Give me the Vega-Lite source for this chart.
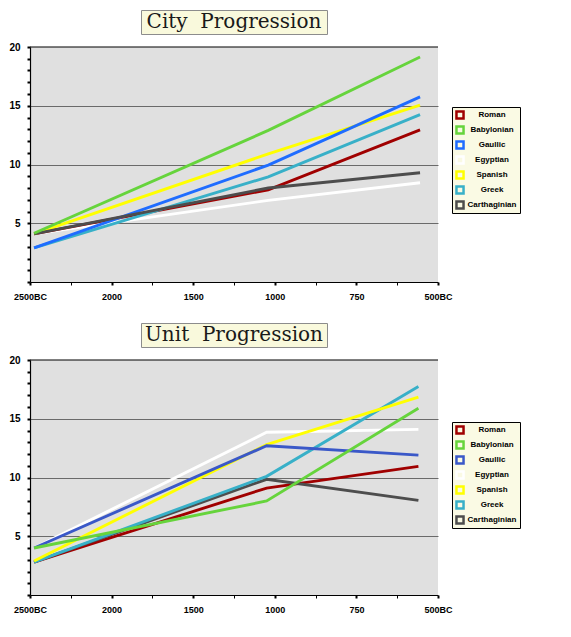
{
  "$schema": "https://vega.github.io/schema/vega-lite/v6.json",
  "background": "white",
  "padding": {"left": 8, "top": 9, "right": 5, "bottom": 5},
  "config": {
    "view": {"stroke": null},
    "axis": {
      "labelFont": "Liberation Sans",
      "labelFontWeight": "bold",
      "labelColor": "black",
      "title": null
    },
    "legend": {
      "labelFont": "Liberation Sans",
      "labelFontWeight": "bold",
      "labelFontSize": 8,
      "labelColor": "black"
    }
  },
  "bounds": "flush",
  "center": true,
  "spacing": 13,
  "resolve": {"scale": {"color": "independent"}, "legend": {"color": "independent"}},
  "vconcat": [
    {
      "width": 186,
      "height": 24,
      "view": {"fill": "#f9f9dc", "stroke": "#8c8c8c", "strokeWidth": 1},
      "data": {"values": [{"t": "City\u00a0 Progression"}]},
      "mark": {"type": "text", "font": "DejaVu Serif", "fontSize": 20, "color": "#1a1a1a", "align": "center", "baseline": "middle"},
      "encoding": {"text": {"field": "t", "type": "nominal"}}
    },
    {
      "width": 408,
      "height": 235,
      "view": {"fill": "#e0e0e0", "stroke": null},
      "layer": [
        {
          "data": {"values": [
            {"series": "Egyptian", "x": 0.05, "y": 4.1},
            {"series": "Egyptian", "x": 2.92, "y": 6.95},
            {"series": "Egyptian", "x": 4.78, "y": 8.45},
            {"series": "Roman", "x": 0.05, "y": 4.1},
            {"series": "Roman", "x": 2.92, "y": 7.85},
            {"series": "Roman", "x": 4.78, "y": 12.95},
            {"series": "Greek", "x": 0.05, "y": 2.9},
            {"series": "Greek", "x": 2.92, "y": 8.95},
            {"series": "Greek", "x": 4.78, "y": 14.25},
            {"series": "Spanish", "x": 0.05, "y": 4.1},
            {"series": "Spanish", "x": 2.92, "y": 10.9},
            {"series": "Spanish", "x": 4.78, "y": 15.05},
            {"series": "Gaullic", "x": 0.05, "y": 2.9},
            {"series": "Gaullic", "x": 2.92, "y": 9.95},
            {"series": "Gaullic", "x": 4.78, "y": 15.75},
            {"series": "Carthaginian", "x": 0.05, "y": 4.1},
            {"series": "Carthaginian", "x": 2.92, "y": 8.0},
            {"series": "Carthaginian", "x": 4.78, "y": 9.3},
            {"series": "Babylonian", "x": 0.05, "y": 4.15},
            {"series": "Babylonian", "x": 2.92, "y": 12.9},
            {"series": "Babylonian", "x": 4.78, "y": 19.15}
          ]},
          "mark": {"type": "line", "strokeWidth": 2.9},
          "encoding": {
            "x": {
              "field": "x", "type": "quantitative",
              "scale": {"domain": [0, 5], "nice": false, "zero": false},
              "axis": {
                "values": [0, 0.5, 1, 1.5, 2, 2.5, 3, 3.5, 4, 4.5, 5],
                "labelExpr": "datum.value % 1 === 0 ? ['2500BC','2000','1500','1000','750','500BC'][datum.value] : ''",
                "labelFontSize": 9,
                "labelPadding": 7,
                "labelFlush": false,
                "labelOverlap": false,
                "grid": false,
                "domainColor": "black",
                "domainWidth": 1.2,
                "tickColor": "black",
                "tickSize": 3,
                "tickWidth": {"condition": {"test": "datum.value % 1 === 0", "value": 2}, "value": 1}
              }
            },
            "y": {
              "field": "y", "type": "quantitative",
              "scale": {"domain": [0, 20], "nice": false},
              "axis": {
                "values": [0, 1, 2, 3, 4, 5, 6, 7, 8, 9, 10, 11, 12, 13, 14, 15, 16, 17, 18, 19, 20],
                "labelExpr": "datum.value % 5 === 0 && datum.value > 0 ? datum.label : ''",
                "labelFontSize": 10,
                "labelPadding": 7,
                "labelOverlap": false,
                "domainColor": "black",
                "domainWidth": 1.2,
                "tickColor": "black",
                "tickSize": 3,
                "tickWidth": 2,
                "grid": true,
                "gridColor": "#6a6a6a",
                "gridWidth": 1,
                "gridOpacity": {"condition": {"test": "datum.value % 5 === 0 && datum.value > 0 && datum.value < 20", "value": 1}, "value": 0}
              }
            },
            "color": {
              "field": "series", "type": "nominal",
              "scale": {
                "domain": ["Roman", "Babylonian", "Gaullic", "Egyptian", "Spanish", "Greek", "Carthaginian"],
                "range": ["#a00000", "#66d43c", "#1f6cff", "#ffffff", "#ffff00", "#38b0c8", "#4d4d4d"]
              },
              "legend": {
                "title": null,
                "orient": "none",
                "legendX": 422,
                "legendY": 60,
                "fillColor": "#fafae4",
                "strokeColor": "black",
                "padding": 3,
                "symbolType": "square",
                "symbolSize": 50,
                "symbolStrokeWidth": 2.5,
                "labelAlign": "center",
                "labelOffset": 27,
                "rowPadding": 5,
                "clipHeight": 10
              }
            }
          }
        },
        {
          "data": {"values": [{"top": 20}]},
          "mark": {"type": "rule", "color": "black", "strokeWidth": 1.2},
          "encoding": {
            "y": {
              "field": "top", "type": "quantitative",
              "scale": {"domain": [0, 20], "nice": false},
              "axis": {
                "values": [0, 1, 2, 3, 4, 5, 6, 7, 8, 9, 10, 11, 12, 13, 14, 15, 16, 17, 18, 19, 20],
                "labelExpr": "datum.value % 5 === 0 && datum.value > 0 ? datum.label : ''",
                "labelFontSize": 10,
                "labelPadding": 7,
                "labelOverlap": false,
                "domainColor": "black",
                "domainWidth": 1.2,
                "tickColor": "black",
                "tickSize": 3,
                "tickWidth": 2,
                "grid": true,
                "gridColor": "#6a6a6a",
                "gridWidth": 1,
                "gridOpacity": {"condition": {"test": "datum.value % 5 === 0 && datum.value > 0 && datum.value < 20", "value": 1}, "value": 0}
              }
            }
          }
        }
      ]
    },
    {
      "width": 10,
      "height": 15,
      "data": {"values": []},
      "mark": "text",
      "encoding": {}
    },
    {
      "width": 186,
      "height": 24,
      "view": {"fill": "#f9f9dc", "stroke": "#8c8c8c", "strokeWidth": 1},
      "data": {"values": [{"t": "Unit\u00a0 Progression"}]},
      "mark": {"type": "text", "font": "DejaVu Serif", "fontSize": 20, "color": "#1a1a1a", "align": "center", "baseline": "middle"},
      "encoding": {"text": {"field": "t", "type": "nominal"}}
    },
    {
      "width": 408,
      "height": 235,
      "view": {"fill": "#e0e0e0", "stroke": null},
      "layer": [
        {
          "data": {"values": [
            {"series": "Egyptian", "x": 0.05, "y": 4.0},
            {"series": "Egyptian", "x": 2.9, "y": 13.85},
            {"series": "Egyptian", "x": 4.76, "y": 14.1},
            {"series": "Roman", "x": 0.05, "y": 2.8},
            {"series": "Roman", "x": 2.9, "y": 9.1},
            {"series": "Roman", "x": 4.76, "y": 10.95},
            {"series": "Carthaginian", "x": 0.05, "y": 2.8},
            {"series": "Carthaginian", "x": 2.9, "y": 9.85},
            {"series": "Carthaginian", "x": 4.76, "y": 8.05},
            {"series": "Greek", "x": 0.05, "y": 2.8},
            {"series": "Greek", "x": 2.9, "y": 10.1},
            {"series": "Greek", "x": 4.76, "y": 17.75},
            {"series": "Spanish", "x": 0.05, "y": 2.9},
            {"series": "Spanish", "x": 2.9, "y": 12.8},
            {"series": "Spanish", "x": 4.76, "y": 16.85},
            {"series": "Gaullic", "x": 0.05, "y": 4.0},
            {"series": "Gaullic", "x": 2.9, "y": 12.7},
            {"series": "Gaullic", "x": 4.76, "y": 11.9},
            {"series": "Babylonian", "x": 0.05, "y": 4.0},
            {"series": "Babylonian", "x": 2.9, "y": 8.0},
            {"series": "Babylonian", "x": 4.76, "y": 15.9}
          ]},
          "mark": {"type": "line", "strokeWidth": 2.9},
          "encoding": {
            "x": {
              "field": "x", "type": "quantitative",
              "scale": {"domain": [0, 5], "nice": false, "zero": false},
              "axis": {
                "values": [0, 0.5, 1, 1.5, 2, 2.5, 3, 3.5, 4, 4.5, 5],
                "labelExpr": "datum.value % 1 === 0 ? ['2500BC','2000','1500','1000','750','500BC'][datum.value] : ''",
                "labelFontSize": 9,
                "labelPadding": 7,
                "labelFlush": false,
                "labelOverlap": false,
                "grid": false,
                "domainColor": "black",
                "domainWidth": 1.2,
                "tickColor": "black",
                "tickSize": 3,
                "tickWidth": {"condition": {"test": "datum.value % 1 === 0", "value": 2}, "value": 1}
              }
            },
            "y": {
              "field": "y", "type": "quantitative",
              "scale": {"domain": [0, 20], "nice": false},
              "axis": {
                "values": [0, 1, 2, 3, 4, 5, 6, 7, 8, 9, 10, 11, 12, 13, 14, 15, 16, 17, 18, 19, 20],
                "labelExpr": "datum.value % 5 === 0 && datum.value > 0 ? datum.label : ''",
                "labelFontSize": 10,
                "labelPadding": 7,
                "labelOverlap": false,
                "domainColor": "black",
                "domainWidth": 1.2,
                "tickColor": "black",
                "tickSize": 3,
                "tickWidth": 2,
                "grid": true,
                "gridColor": "#6a6a6a",
                "gridWidth": 1,
                "gridOpacity": {"condition": {"test": "datum.value % 5 === 0 && datum.value > 0 && datum.value < 20", "value": 1}, "value": 0}
              }
            },
            "color": {
              "field": "series", "type": "nominal",
              "scale": {
                "domain": ["Roman", "Babylonian", "Gaullic", "Egyptian", "Spanish", "Greek", "Carthaginian"],
                "range": ["#a00000", "#66d43c", "#3a58c8", "#ffffff", "#ffff00", "#38b0c8", "#4d4d4d"]
              },
              "legend": {
                "title": null,
                "orient": "none",
                "legendX": 422,
                "legendY": 62,
                "fillColor": "#fafae4",
                "strokeColor": "black",
                "padding": 3,
                "symbolType": "square",
                "symbolSize": 50,
                "symbolStrokeWidth": 2.5,
                "labelAlign": "center",
                "labelOffset": 27,
                "rowPadding": 5,
                "clipHeight": 10
              }
            }
          }
        },
        {
          "data": {"values": [{"top": 20}]},
          "mark": {"type": "rule", "color": "black", "strokeWidth": 1.2},
          "encoding": {
            "y": {
              "field": "top", "type": "quantitative",
              "scale": {"domain": [0, 20], "nice": false},
              "axis": {
                "values": [0, 1, 2, 3, 4, 5, 6, 7, 8, 9, 10, 11, 12, 13, 14, 15, 16, 17, 18, 19, 20],
                "labelExpr": "datum.value % 5 === 0 && datum.value > 0 ? datum.label : ''",
                "labelFontSize": 10,
                "labelPadding": 7,
                "labelOverlap": false,
                "domainColor": "black",
                "domainWidth": 1.2,
                "tickColor": "black",
                "tickSize": 3,
                "tickWidth": 2,
                "grid": true,
                "gridColor": "#6a6a6a",
                "gridWidth": 1,
                "gridOpacity": {"condition": {"test": "datum.value % 5 === 0 && datum.value > 0 && datum.value < 20", "value": 1}, "value": 0}
              }
            }
          }
        }
      ]
    }
  ]
}
